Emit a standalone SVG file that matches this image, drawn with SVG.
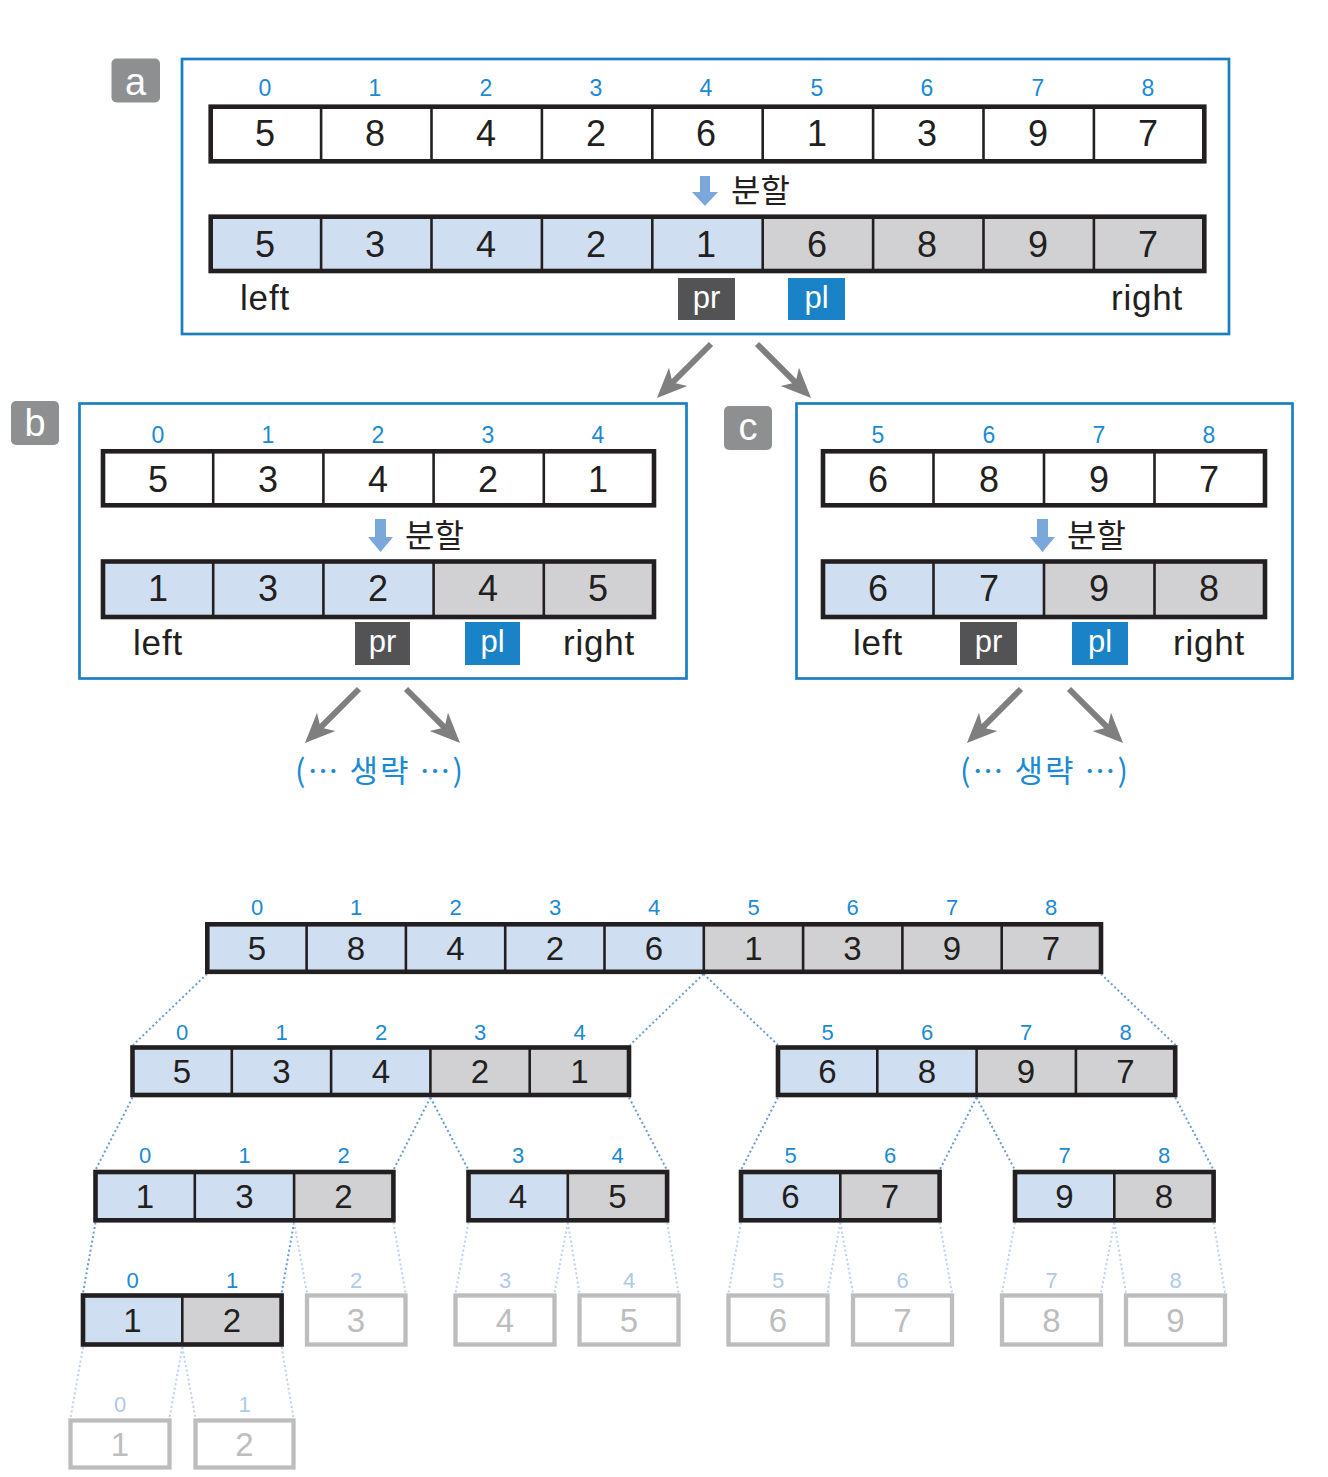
<svg xmlns="http://www.w3.org/2000/svg" width="1328" height="1477" viewBox="0 0 1328 1477">
<style>
.frame{fill:none;stroke:#1a7fc1;stroke-width:2.7}
.outer{fill:none;stroke:#231f20;stroke-width:4.6}
.dv{stroke:#231f20;stroke-width:2.6}
.cb{fill:#cfdef0}
.cg{fill:#d1d1d3}
.cw{fill:#ffffff}
.val{font-family:"Liberation Sans",Arial,sans-serif;font-size:36px;fill:#231f20;text-anchor:middle}
.idx{font-family:"Liberation Sans",Arial,sans-serif;font-size:23px;fill:#1a8ad4;text-anchor:middle}
.tval{font-size:33px}
.tidx{font-size:22px}
.fval{fill:#bdbdbd}
.fidx{fill:#afc9e8}
.fbox{fill:#ffffff;stroke:#bdbdbd;stroke-width:4.3}
.lbl{font-family:"Liberation Sans",Arial,sans-serif;font-size:35px;letter-spacing:0.8px;fill:#231f20;text-anchor:middle}
.tag{font-family:"Liberation Sans",Arial,sans-serif;font-size:31px;fill:#ffffff;text-anchor:middle}
.pr{fill:#535355}
.pl{fill:#1a82c6}
.badge{fill:#8e8f91}
.btxt{font-family:"Liberation Sans",Arial,sans-serif;font-size:38px;fill:#ffffff;text-anchor:middle}
.kr{font-family:"Noto Sans CJK KR","Noto Sans",sans-serif;font-size:32px;fill:#231f20}
.omit{font-family:"Noto Sans CJK KR","Noto Sans",sans-serif;font-size:31px;letter-spacing:2px;fill:#1a8ad4;text-anchor:middle}
.sarrow{fill:#7ba8da}
.garrow{stroke:#7f7f80;stroke-width:6;fill:none;marker-end:url(#gh)}
.dot{stroke:#6c9ad2;stroke-width:2;stroke-dasharray:2 2.6;fill:none}
.dotl{stroke:#bcd1ec;stroke-width:2;stroke-dasharray:2 2.6;fill:none}
</style>
<defs>
<marker id="gh" markerUnits="userSpaceOnUse" markerWidth="30" markerHeight="30" viewBox="0 0 30 30" refX="10" refY="15" orient="auto">
<path d="M0,2 L30,15 L0,28 L8,15 z" fill="#7f7f80"/>
</marker>
</defs>

<!-- Panel a -->
<g id="panel-a">
<rect class="badge" x="111.5" y="58.5" width="48.5" height="44" rx="5"/>
<text class="btxt" x="135.5" y="95">a</text>
<rect class="frame" x="182" y="59" width="1047" height="275"/>
<g class="idx">
<text x="265" y="96">0</text><text x="375" y="96">1</text><text x="486" y="96">2</text><text x="596" y="96">3</text><text x="706" y="96">4</text><text x="817" y="96">5</text><text x="927" y="96">6</text><text x="1038" y="96">7</text><text x="1148" y="96">8</text>
</g>
<rect class="cw" x="210.7" y="106.7" width="993.6" height="54.6"/>
<g class="dv">
<line x1="321.1" y1="106.7" x2="321.1" y2="161.3"/><line x1="431.5" y1="106.7" x2="431.5" y2="161.3"/><line x1="541.9" y1="106.7" x2="541.9" y2="161.3"/><line x1="652.3" y1="106.7" x2="652.3" y2="161.3"/><line x1="762.7" y1="106.7" x2="762.7" y2="161.3"/><line x1="873.1" y1="106.7" x2="873.1" y2="161.3"/><line x1="983.5" y1="106.7" x2="983.5" y2="161.3"/><line x1="1093.9" y1="106.7" x2="1093.9" y2="161.3"/>
</g>
<rect class="outer" x="210.7" y="106.7" width="993.6" height="54.6"/>
<g class="val">
<text x="265" y="146">5</text><text x="375" y="146">8</text><text x="486" y="146">4</text><text x="596" y="146">2</text><text x="706" y="146">6</text><text x="817" y="146">1</text><text x="927" y="146">3</text><text x="1038" y="146">9</text><text x="1148" y="146">7</text>
</g>
<polygon class="sarrow" points="700,176 710,176 710,192 718,192 705,206 692,192 700,192"/>
<text class="kr" x="731" y="202">분할</text>
<rect class="cb" x="210.7" y="216.7" width="552" height="54.3"/>
<rect class="cg" x="762.7" y="216.7" width="441.6" height="54.3"/>
<g class="dv">
<line x1="321.1" y1="216.7" x2="321.1" y2="271"/><line x1="431.5" y1="216.7" x2="431.5" y2="271"/><line x1="541.9" y1="216.7" x2="541.9" y2="271"/><line x1="652.3" y1="216.7" x2="652.3" y2="271"/><line x1="762.7" y1="216.7" x2="762.7" y2="271"/><line x1="873.1" y1="216.7" x2="873.1" y2="271"/><line x1="983.5" y1="216.7" x2="983.5" y2="271"/><line x1="1093.9" y1="216.7" x2="1093.9" y2="271"/>
</g>
<rect class="outer" x="210.7" y="216.7" width="993.6" height="54.3"/>
<g class="val">
<text x="265" y="257">5</text><text x="375" y="257">3</text><text x="486" y="257">4</text><text x="596" y="257">2</text><text x="706" y="257">1</text><text x="817" y="257">6</text><text x="927" y="257">8</text><text x="1038" y="257">9</text><text x="1148" y="257">7</text>
</g>
<text class="lbl" x="265" y="310">left</text>
<rect class="pr" x="678" y="278" width="57" height="42"/>
<text class="tag" x="706.5" y="308">pr</text>
<rect class="pl" x="788" y="278" width="57" height="42"/>
<text class="tag" x="816.5" y="308">pl</text>
<text class="lbl" x="1147" y="310">right</text>
</g>

<!-- Panel b -->
<g id="panel-b">
<rect class="badge" x="11" y="401" width="48" height="44" rx="5"/>
<text class="btxt" x="35" y="436">b</text>
<rect class="frame" x="79.5" y="403.5" width="607" height="275"/>
<g class="idx">
<text x="158" y="443">0</text><text x="268" y="443">1</text><text x="378" y="443">2</text><text x="488" y="443">3</text><text x="598" y="443">4</text>
</g>
<rect class="cw" x="103" y="451.3" width="551" height="54"/>
<g class="dv">
<line x1="213.2" y1="451.3" x2="213.2" y2="505.3"/><line x1="323.4" y1="451.3" x2="323.4" y2="505.3"/><line x1="433.6" y1="451.3" x2="433.6" y2="505.3"/><line x1="543.8" y1="451.3" x2="543.8" y2="505.3"/>
</g>
<rect class="outer" x="103" y="451.3" width="551" height="54"/>
<g class="val">
<text x="158" y="492">5</text><text x="268" y="492">3</text><text x="378" y="492">4</text><text x="488" y="492">2</text><text x="598" y="492">1</text>
</g>
<polygon class="sarrow" points="375,519 386,519 386,537 393,537 380.5,552 368,537 375,537"/>
<text class="kr" x="405" y="547">분할</text>
<rect class="cb" x="103" y="561.5" width="330.6" height="55.5"/>
<rect class="cg" x="433.6" y="561.5" width="220.4" height="55.5"/>
<g class="dv">
<line x1="213.2" y1="561.5" x2="213.2" y2="617"/><line x1="323.4" y1="561.5" x2="323.4" y2="617"/><line x1="433.6" y1="561.5" x2="433.6" y2="617"/><line x1="543.8" y1="561.5" x2="543.8" y2="617"/>
</g>
<rect class="outer" x="103" y="561.5" width="551" height="55.5"/>
<g class="val">
<text x="158" y="601">1</text><text x="268" y="601">3</text><text x="378" y="601">2</text><text x="488" y="601">4</text><text x="598" y="601">5</text>
</g>
<text class="lbl" x="158" y="655">left</text>
<rect class="pr" x="355" y="622" width="55" height="43"/>
<text class="tag" x="382.5" y="652">pr</text>
<rect class="pl" x="465" y="622" width="55" height="43"/>
<text class="tag" x="492.5" y="652">pl</text>
<text class="lbl" x="599" y="655">right</text>
</g>

<!-- Panel c -->
<g id="panel-c">
<rect class="badge" x="724" y="406" width="48" height="44" rx="5"/>
<text class="btxt" x="748" y="440">c</text>
<rect class="frame" x="796.5" y="403.5" width="496" height="275"/>
<g class="idx">
<text x="878" y="443">5</text><text x="989" y="443">6</text><text x="1099" y="443">7</text><text x="1209" y="443">8</text>
</g>
<rect class="cw" x="823" y="451.3" width="442" height="54"/>
<g class="dv">
<line x1="933.5" y1="451.3" x2="933.5" y2="505.3"/><line x1="1044" y1="451.3" x2="1044" y2="505.3"/><line x1="1154.5" y1="451.3" x2="1154.5" y2="505.3"/>
</g>
<rect class="outer" x="823" y="451.3" width="442" height="54"/>
<g class="val">
<text x="878" y="492">6</text><text x="989" y="492">8</text><text x="1099" y="492">9</text><text x="1209" y="492">7</text>
</g>
<polygon class="sarrow" points="1037,519 1048,519 1048,537 1055,537 1042.5,552 1030,537 1037,537"/>
<text class="kr" x="1067" y="547">분할</text>
<rect class="cb" x="823" y="561.5" width="221" height="55.5"/>
<rect class="cg" x="1044" y="561.5" width="221" height="55.5"/>
<g class="dv">
<line x1="933.5" y1="561.5" x2="933.5" y2="617"/><line x1="1044" y1="561.5" x2="1044" y2="617"/><line x1="1154.5" y1="561.5" x2="1154.5" y2="617"/>
</g>
<rect class="outer" x="823" y="561.5" width="442" height="55.5"/>
<g class="val">
<text x="878" y="601">6</text><text x="989" y="601">7</text><text x="1099" y="601">9</text><text x="1209" y="601">8</text>
</g>
<text class="lbl" x="878" y="655">left</text>
<rect class="pr" x="960" y="622" width="57" height="43"/>
<text class="tag" x="988.5" y="652">pr</text>
<rect class="pl" x="1072" y="622" width="56" height="43"/>
<text class="tag" x="1100" y="652">pl</text>
<text class="lbl" x="1209" y="655">right</text>
</g>

<g id="omit-b"><text class="omit" x="380" y="782">(… 생략 …)</text></g>
<g id="omit-c"><text class="omit" x="1045" y="782">(… 생략 …)</text></g>

<!-- connectors -->
<g id="connectors">
<line class="garrow" x1="711" y1="344" x2="671.1" y2="383.9"/>
<line class="garrow" x1="757" y1="344" x2="796.9" y2="383.9"/>
<line class="garrow" x1="359" y1="689" x2="319.1" y2="728.9"/>
<line class="garrow" x1="406" y1="689" x2="445.9" y2="728.9"/>
<line class="garrow" x1="1021" y1="689" x2="981.1" y2="728.9"/>
<line class="garrow" x1="1069" y1="689" x2="1108.9" y2="728.9"/>
<g class="dot">
<line x1="207" y1="974" x2="133" y2="1045"/>
<line x1="703.5" y1="974" x2="630" y2="1045"/>
<line x1="703.5" y1="974" x2="778" y2="1045"/>
<line x1="1101" y1="974" x2="1175.5" y2="1045"/>
<line x1="132.5" y1="1097.5" x2="95.5" y2="1170"/>
<line x1="430.4" y1="1097.5" x2="393.4" y2="1170"/>
<line x1="430.4" y1="1097.5" x2="468.5" y2="1170"/>
<line x1="629" y1="1097.5" x2="667" y2="1170"/>
<line x1="778" y1="1097.5" x2="741" y2="1170"/>
<line x1="976.6" y1="1097.5" x2="939.6" y2="1170"/>
<line x1="976.6" y1="1097.5" x2="1015" y2="1170"/>
<line x1="1175.2" y1="1097.5" x2="1213.6" y2="1170"/>
<line x1="95.5" y1="1222.5" x2="83" y2="1293"/>
<line x1="294.1" y1="1222.5" x2="281.6" y2="1293"/>
</g>
<g class="dotl">
<line x1="294.1" y1="1222.5" x2="307" y2="1293"/>
<line x1="393.4" y1="1222.5" x2="405.5" y2="1293"/>
<line x1="468.5" y1="1222.5" x2="455.5" y2="1293"/>
<line x1="567.8" y1="1222.5" x2="554.5" y2="1293"/>
<line x1="567.8" y1="1222.5" x2="579.5" y2="1293"/>
<line x1="667.1" y1="1222.5" x2="678.5" y2="1293"/>
<line x1="741" y1="1222.5" x2="728.5" y2="1293"/>
<line x1="840.3" y1="1222.5" x2="827.5" y2="1293"/>
<line x1="840.3" y1="1222.5" x2="853" y2="1293"/>
<line x1="939.6" y1="1222.5" x2="952" y2="1293"/>
<line x1="1015" y1="1222.5" x2="1002" y2="1293"/>
<line x1="1114.3" y1="1222.5" x2="1101" y2="1293"/>
<line x1="1114.3" y1="1222.5" x2="1126" y2="1293"/>
<line x1="1213.6" y1="1222.5" x2="1225" y2="1293"/>
<line x1="83" y1="1347" x2="70.5" y2="1418"/>
<line x1="182.3" y1="1347" x2="169.5" y2="1418"/>
<line x1="182.3" y1="1347" x2="195.5" y2="1418"/>
<line x1="281.6" y1="1347" x2="293.5" y2="1418"/>
</g>
</g>

<!-- Tree level 0 -->
<g id="t0">
<g class="idx tidx">
<text x="257" y="914.5">0</text><text x="356" y="914.5">1</text><text x="455.5" y="914.5">2</text><text x="555" y="914.5">3</text><text x="654" y="914.5">4</text><text x="753.5" y="914.5">5</text><text x="852.5" y="914.5">6</text><text x="952" y="914.5">7</text><text x="1051" y="914.5">8</text>
</g>
<rect class="cb" x="207.3" y="924.3" width="496.5" height="47.5"/>
<rect class="cg" x="703.8" y="924.3" width="397.2" height="47.5"/>
<g class="dv">
<line x1="306.6" y1="924.3" x2="306.6" y2="971.8"/><line x1="405.9" y1="924.3" x2="405.9" y2="971.8"/><line x1="505.2" y1="924.3" x2="505.2" y2="971.8"/><line x1="604.5" y1="924.3" x2="604.5" y2="971.8"/><line x1="703.8" y1="924.3" x2="703.8" y2="971.8"/><line x1="803.1" y1="924.3" x2="803.1" y2="971.8"/><line x1="902.4" y1="924.3" x2="902.4" y2="971.8"/><line x1="1001.7" y1="924.3" x2="1001.7" y2="971.8"/>
</g>
<rect class="outer" x="207.3" y="924.3" width="893.7" height="47.5"/>
<g class="val tval">
<text x="257" y="960">5</text><text x="356" y="960">8</text><text x="455.5" y="960">4</text><text x="555" y="960">2</text><text x="654" y="960">6</text><text x="753.5" y="960">1</text><text x="852.5" y="960">3</text><text x="952" y="960">9</text><text x="1051" y="960">7</text>
</g>
</g>

<!-- Tree level 1 left -->
<g id="t1-left">
<g class="idx tidx">
<text x="182" y="1039.5">0</text><text x="281.5" y="1039.5">1</text><text x="381" y="1039.5">2</text><text x="480" y="1039.5">3</text><text x="579.5" y="1039.5">4</text>
</g>
<rect class="cb" x="132.5" y="1047.5" width="297.9" height="47.5"/>
<rect class="cg" x="430.4" y="1047.5" width="198.6" height="47.5"/>
<g class="dv">
<line x1="231.8" y1="1047.5" x2="231.8" y2="1095"/><line x1="331.1" y1="1047.5" x2="331.1" y2="1095"/><line x1="430.4" y1="1047.5" x2="430.4" y2="1095"/><line x1="529.7" y1="1047.5" x2="529.7" y2="1095"/>
</g>
<rect class="outer" x="132.5" y="1047.5" width="496.5" height="47.5"/>
<g class="val tval">
<text x="182" y="1083">5</text><text x="281.5" y="1083">3</text><text x="381" y="1083">4</text><text x="480" y="1083">2</text><text x="579.5" y="1083">1</text>
</g>
</g>

<!-- Tree level 1 right -->
<g id="t1-right">
<g class="idx tidx">
<text x="827.5" y="1039.5">5</text><text x="927" y="1039.5">6</text><text x="1026" y="1039.5">7</text><text x="1125.5" y="1039.5">8</text>
</g>
<rect class="cb" x="778" y="1047.5" width="198.6" height="47.5"/>
<rect class="cg" x="976.6" y="1047.5" width="198.6" height="47.5"/>
<g class="dv">
<line x1="877.3" y1="1047.5" x2="877.3" y2="1095"/><line x1="976.6" y1="1047.5" x2="976.6" y2="1095"/><line x1="1075.9" y1="1047.5" x2="1075.9" y2="1095"/>
</g>
<rect class="outer" x="778" y="1047.5" width="397.2" height="47.5"/>
<g class="val tval">
<text x="827.5" y="1083">6</text><text x="927" y="1083">8</text><text x="1026" y="1083">9</text><text x="1125.5" y="1083">7</text>
</g>
</g>

<!-- Tree level 2 -->
<g id="t2-a">
<g class="idx tidx"><text x="145" y="1162.5">0</text><text x="244.5" y="1162.5">1</text><text x="343.5" y="1162.5">2</text></g>
<rect class="cb" x="95.5" y="1172" width="198.6" height="48.3"/>
<rect class="cg" x="294.1" y="1172" width="99.3" height="48.3"/>
<g class="dv"><line x1="194.8" y1="1172" x2="194.8" y2="1220.3"/><line x1="294.1" y1="1172" x2="294.1" y2="1220.3"/></g>
<rect class="outer" x="95.5" y="1172" width="297.9" height="48.3"/>
<g class="val tval"><text x="145" y="1208">1</text><text x="244.5" y="1208">3</text><text x="343.5" y="1208">2</text></g>
</g>
<g id="t2-b">
<g class="idx tidx"><text x="518" y="1162.5">3</text><text x="617.5" y="1162.5">4</text></g>
<rect class="cb" x="468.5" y="1172" width="99.3" height="48.3"/>
<rect class="cg" x="567.8" y="1172" width="99.3" height="48.3"/>
<line class="dv" x1="567.8" y1="1172" x2="567.8" y2="1220.3"/>
<rect class="outer" x="468.5" y="1172" width="198.6" height="48.3"/>
<g class="val tval"><text x="518" y="1208">4</text><text x="617.5" y="1208">5</text></g>
</g>
<g id="t2-c">
<g class="idx tidx"><text x="790.5" y="1162.5">5</text><text x="890" y="1162.5">6</text></g>
<rect class="cb" x="741" y="1172" width="99.3" height="48.3"/>
<rect class="cg" x="840.3" y="1172" width="99.3" height="48.3"/>
<line class="dv" x1="840.3" y1="1172" x2="840.3" y2="1220.3"/>
<rect class="outer" x="741" y="1172" width="198.6" height="48.3"/>
<g class="val tval"><text x="790.5" y="1208">6</text><text x="890" y="1208">7</text></g>
</g>
<g id="t2-d">
<g class="idx tidx"><text x="1064.5" y="1162.5">7</text><text x="1164" y="1162.5">8</text></g>
<rect class="cb" x="1015" y="1172" width="99.3" height="48.3"/>
<rect class="cg" x="1114.3" y="1172" width="99.3" height="48.3"/>
<line class="dv" x1="1114.3" y1="1172" x2="1114.3" y2="1220.3"/>
<rect class="outer" x="1015" y="1172" width="198.6" height="48.3"/>
<g class="val tval"><text x="1064.5" y="1208">9</text><text x="1164" y="1208">8</text></g>
</g>

<!-- Tree level 3 -->
<g id="t3-a">
<g class="idx tidx"><text x="132.5" y="1288">0</text><text x="232" y="1288">1</text></g>
<rect class="cb" x="83" y="1295.5" width="99.3" height="49"/>
<rect class="cg" x="182.3" y="1295.5" width="99.3" height="49"/>
<line class="dv" x1="182.3" y1="1295.5" x2="182.3" y2="1344.5"/>
<rect class="outer" x="83" y="1295.5" width="198.6" height="49"/>
<g class="val tval"><text x="132.5" y="1332">1</text><text x="232" y="1332">2</text></g>
</g>
<g id="f3-3"><text class="idx tidx fidx" x="356" y="1288">2</text><rect class="fbox" x="307" y="1295.5" width="98.5" height="49"/><text class="val tval fval" x="356" y="1332">3</text></g>
<g id="f3-4"><text class="idx tidx fidx" x="505" y="1288">3</text><rect class="fbox" x="455.5" y="1295.5" width="99" height="49"/><text class="val tval fval" x="505" y="1332">4</text></g>
<g id="f3-5"><text class="idx tidx fidx" x="629" y="1288">4</text><rect class="fbox" x="579.5" y="1295.5" width="99" height="49"/><text class="val tval fval" x="629" y="1332">5</text></g>
<g id="f3-6"><text class="idx tidx fidx" x="778" y="1288">5</text><rect class="fbox" x="728.5" y="1295.5" width="99" height="49"/><text class="val tval fval" x="778" y="1332">6</text></g>
<g id="f3-7"><text class="idx tidx fidx" x="902.5" y="1288">6</text><rect class="fbox" x="853" y="1295.5" width="99" height="49"/><text class="val tval fval" x="902.5" y="1332">7</text></g>
<g id="f3-8"><text class="idx tidx fidx" x="1051.5" y="1288">7</text><rect class="fbox" x="1002" y="1295.5" width="99" height="49"/><text class="val tval fval" x="1051.5" y="1332">8</text></g>
<g id="f3-9"><text class="idx tidx fidx" x="1175.5" y="1288">8</text><rect class="fbox" x="1126" y="1295.5" width="99" height="49"/><text class="val tval fval" x="1175.5" y="1332">9</text></g>

<!-- Tree level 4 -->
<g id="f4-1"><text class="idx tidx fidx" x="120" y="1411.5">0</text><rect class="fbox" x="70.5" y="1420.5" width="99" height="47"/><text class="val tval fval" x="120" y="1456">1</text></g>
<g id="f4-2"><text class="idx tidx fidx" x="244.5" y="1411.5">1</text><rect class="fbox" x="195.5" y="1420.5" width="98" height="47"/><text class="val tval fval" x="244.5" y="1456">2</text></g>
</svg>
